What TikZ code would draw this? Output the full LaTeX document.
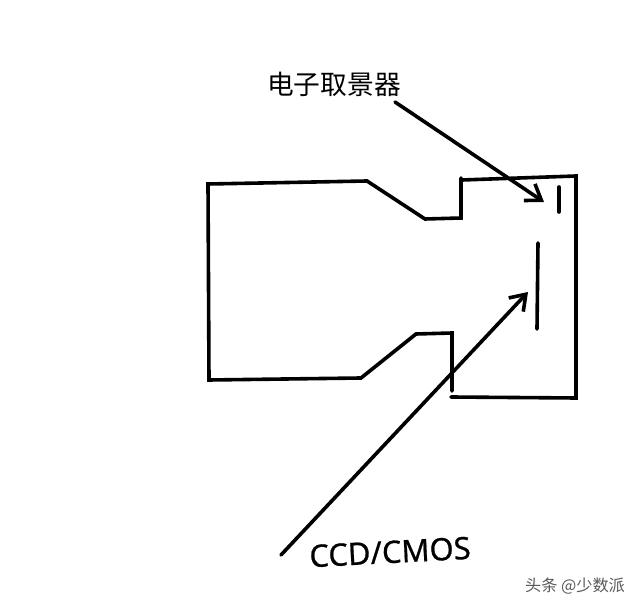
\documentclass[tikz,border=0pt]{standalone}
\usepackage{fontspec}
\setmainfont{Noto Sans}
\newfontfamily\cjk{Noto Sans CJK SC}
\newfontfamily\hand[FakeBold=0.7]{Noto Sans}
\usetikzlibrary{arrows.meta}
\tikzset{
  pen/.style={black, line width=0.09cm, line cap=round, line join=miter},
  pointer/.style={pen, -{Straight Barb[length=0.36cm, width=0.5cm, line width=0.09cm]}},
}
\begin{document}
\begin{tikzpicture}[x=0.025cm, y=-0.025cm]
\useasboundingbox (0,0) rectangle (640,609);

% lens barrel
\draw[pen] (461,178)--(461,218)--(425,219)--(367,181)--(208,184)--(209,380)--(361,378)--(416,334)--(452,333)--(452,391);

% body
\draw[pen] (462,180)--(576,176)--(576,398)--(451,397);

% viewfinder and sensor
\draw[pen] (559,187)--(559,212);
\draw[pen] (538,243)--(537,329);

% labels
\node (finder) at (334,84) [font=\cjk, inner sep=0pt] {\fontsize{19pt}{19pt}\selectfont 电子取景器};
\node (sensor) at (390,552) [rotate=3, inner sep=0pt, font=\hand] {\fontsize{22pt}{22pt}\selectfont CCD/CMOS};
\node (mark) at (575,586) [font=\cjk, text=black!65, inner sep=0pt] {\fontsize{11.5pt}{11.5pt}\selectfont 头条 @少数派};

% arrows
\coordinate (findertip) at (544,202);
\coordinate (findertail) at (395,102);
\coordinate (sensortip) at (528,292);
\coordinate (sensortail) at (281,555);
\draw[pointer] (findertail)--(findertip);
\draw[pointer] (sensortail)--(sensortip);

\end{tikzpicture}
\end{document}
